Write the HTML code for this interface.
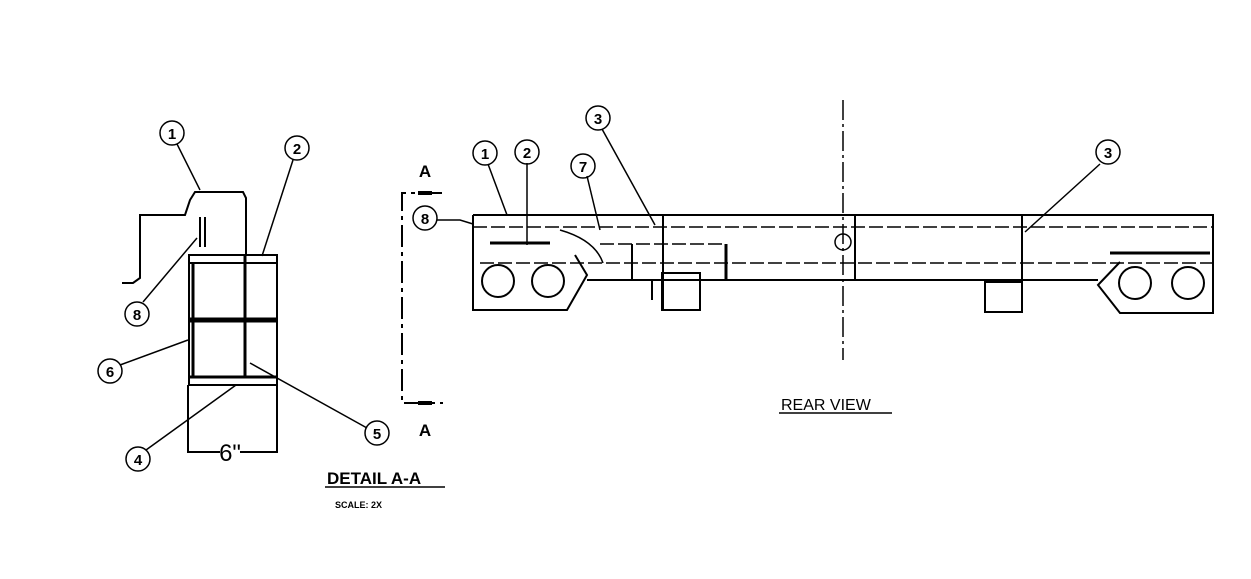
<!DOCTYPE html>
<html><head><meta charset="utf-8"><style>html,body{margin:0;padding:0;background:#fff}svg{display:block}</style></head>
<body>
<svg width="1251" height="579" viewBox="0 0 1251 579" xmlns="http://www.w3.org/2000/svg" font-family="Liberation Sans, sans-serif">
<g fill="none" stroke="#000" stroke-width="2">
<!-- Detail AA -->
<path d="M122,283 H133 L140,278 V215 H185 L190,200 L195,192 H243 L246,198 V255"/>
<path d="M200,247 V217 M205,247 V217"/>
<rect x="189" y="255" width="88" height="130"/>
<line x1="189" y1="263" x2="277" y2="263"/>
<line x1="189" y1="320" x2="277" y2="320" stroke-width="5"/>
<line x1="189" y1="377" x2="277" y2="377" stroke-width="3"/>
<line x1="245" y1="255" x2="245" y2="377" stroke-width="3"/>
<line x1="193" y1="263" x2="193" y2="377" stroke-width="3"/>
<path d="M188,385 V452 H220 M240,452 H277 V385"/>
<g stroke-width="1.5">
<line x1="177" y1="144" x2="200" y2="190"/>
<line x1="293" y1="160" x2="262" y2="256"/>
<line x1="143" y1="302" x2="197" y2="238"/>
<line x1="120" y1="365" x2="188" y2="340"/>
<line x1="146" y1="450" x2="236" y2="385"/>
<line x1="367" y1="428" x2="250" y2="363"/>
</g>
<g stroke-width="1.5">
<circle cx="172" cy="133" r="12"/><circle cx="297" cy="148" r="12"/>
<circle cx="137" cy="314" r="12"/><circle cx="110" cy="371" r="12"/>
<circle cx="138" cy="459" r="12"/><circle cx="377" cy="433" r="12"/>
</g>
<line x1="325" y1="487" x2="445" y2="487" stroke-width="1.5"/>
<!-- section line -->
<path d="M442,193 H402 V403 H443" stroke-dasharray="22,5,4,5"/>
<line x1="418" y1="193" x2="432" y2="193" stroke-width="4"/>
<line x1="418" y1="403" x2="432" y2="403" stroke-width="4"/>
<!-- Rear view -->
<path d="M473,215 H1213 V313 H1120 L1098,285 L1120,262"/>
<path d="M473,215 V310 H567 L587,275 L575,255"/>
<line x1="587" y1="280" x2="1098" y2="280"/>
<line x1="473" y1="227" x2="1213" y2="227" stroke-dasharray="14,4" stroke-width="1.5"/>
<line x1="480" y1="263" x2="1213" y2="263" stroke-dasharray="14,4" stroke-width="1.5"/>
<line x1="600" y1="244" x2="725" y2="244" stroke-dasharray="14,4" stroke-width="1.5"/>
<line x1="490" y1="243" x2="550" y2="243" stroke-width="3"/>
<path d="M560,230 Q595,240 603,263" stroke-width="1.5"/>
<rect x="662" y="273" width="38" height="37"/>
<rect x="985" y="282" width="37" height="30"/>
<line x1="663" y1="215" x2="663" y2="310"/>
<line x1="1022" y1="215" x2="1022" y2="282"/>
<line x1="855" y1="215" x2="855" y2="280"/>
<line x1="632" y1="244" x2="632" y2="280"/>
<line x1="726" y1="244" x2="726" y2="280" stroke-width="3"/>
<line x1="652" y1="280" x2="652" y2="300"/>
<circle cx="498" cy="281" r="16"/><circle cx="548" cy="281" r="16"/>
<circle cx="1135" cy="283" r="16"/><circle cx="1188" cy="283" r="16"/>
<circle cx="843" cy="242" r="8" stroke-width="1.5"/>
<line x1="1110" y1="253" x2="1210" y2="253" stroke-width="3"/>
<line x1="843" y1="100" x2="843" y2="360" stroke-dasharray="20,4,3,4" stroke-width="1.5"/>
<g stroke-width="1.5">
<line x1="488" y1="164" x2="507" y2="215"/>
<line x1="527" y1="163" x2="527" y2="245"/>
<line x1="602" y1="129" x2="655" y2="225"/>
<line x1="587" y1="176" x2="600" y2="230"/>
<path d="M437,220 L460,220 L473,224"/>
<line x1="1100" y1="164" x2="1025" y2="232"/>
<circle cx="485" cy="153" r="12"/><circle cx="527" cy="152" r="12"/>
<circle cx="598" cy="118" r="12"/><circle cx="583" cy="166" r="12"/>
<circle cx="425" cy="218" r="12"/><circle cx="1108" cy="152" r="12"/>
</g>
<line x1="779" y1="413" x2="892" y2="413" stroke-width="1.5"/>
</g>
<g font-weight="bold" text-anchor="middle" font-size="15">
<text x="172" y="139">1</text><text x="297" y="154">2</text>
<text x="137" y="320">8</text><text x="110" y="377">6</text>
<text x="138" y="465">4</text><text x="377" y="439">5</text>
<text x="485" y="159">1</text><text x="527" y="158">2</text>
<text x="598" y="124">3</text><text x="583" y="172">7</text>
<text x="425" y="224">8</text><text x="1108" y="158">3</text>
<text x="425" y="177" font-size="17">A</text>
<text x="425" y="436" font-size="17">A</text>
</g>
<text x="230" y="461" font-size="24" text-anchor="middle">6"</text>
<text x="327" y="484" font-size="17" font-weight="bold">DETAIL A-A</text>
<text x="335" y="508" font-size="9" font-weight="bold">SCALE: 2X</text>
<text x="781" y="410" font-size="16">REAR VIEW</text>
</svg>
</body></html>
